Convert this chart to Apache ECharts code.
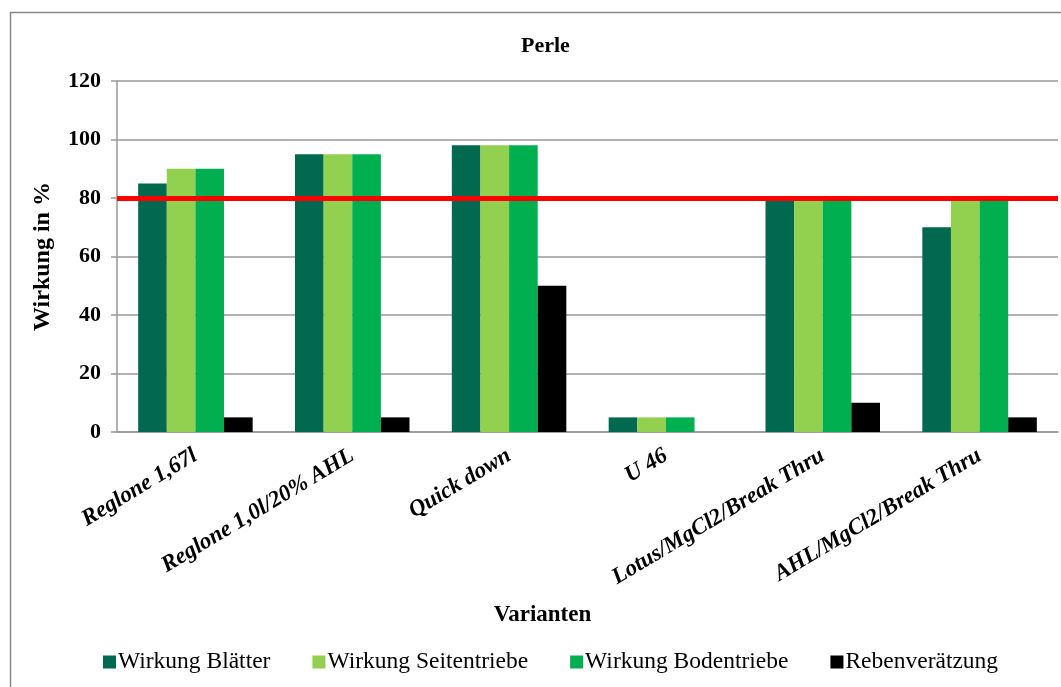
<!DOCTYPE html>
<html>
<head>
<meta charset="utf-8">
<script src="https://cdn.jsdelivr.net/npm/echarts@6/dist/echarts.min.js"></script>
<style>
  html, body { margin: 0; padding: 0; background: #fff; }
  #chart { width: 1061px; height: 687px; }
</style>
</head>
<body>
<div id="chart"></div>
<script>
// Daten
const categories = ['Reglone 1,67l', 'Reglone 1,0l/20% AHL', 'Quick down', 'U 46', 'Lotus/MgCl2/Break Thru', 'AHL/MgCl2/Break Thru'];
const blaetter = [85, 95, 98, 5, 80, 70];
const seitentriebe = [90, 95, 98, 5, 80, 80];
const bodentriebe = [90, 95, 98, 5, 80, 80];
const rebenveraetzung = [5, 5, 50, 0, 10, 5];
const schwelle = 80;

const font = 'Liberation Serif';

const chart = echarts.init(document.getElementById('chart'));

const option = {
  animation: false,
  textStyle: { fontFamily: font },
  title: {
    text: 'Perle',
    left: 516,
    top: 30,
    textStyle: { fontFamily: font, fontSize: 22, fontWeight: 'bold', color: '#000' },
  },
  // Rahmen um das Diagramm
  graphic: [
    {
      type: 'rect',
      shape: { x: 10.5, y: 12.5, width: 1070, height: 700 },
      style: { fill: 'none', stroke: '#888', lineWidth: 1.5 },
      silent: true,
    },
  ],
  legend: {
    bottom: 8,
    left: 98,
    itemWidth: 13,
    itemHeight: 13,
    itemGap: 42,
    icon: 'rect',
    textStyle: { fontFamily: font, fontSize: 23.5, color: '#000', padding: [0, 0, 0, -3] },
    data: ['Wirkung Blätter', 'Wirkung Seitentriebe', 'Wirkung Bodentriebe', 'Rebenverätzung'],
  },
  grid: {
    left: 117,
    right: 3,
    top: 81,
    bottom: 255,
  },
  xAxis: {
    type: 'category',
    data: categories,
    name: 'Varianten',
    nameLocation: 'middle',
    nameGap: 172,
    nameTextStyle: {
      fontFamily: font, fontSize: 23, fontWeight: 'bold', color: '#000',
      padding: [0, 90, 0, 0],
    },
    axisLine: { lineStyle: { color: '#999', width: 1.5 } },
    axisTick: { show: false },
    axisLabel: {
      rotate: 31,
      margin: 22,
      interval: 0,
      fontFamily: font,
      fontSize: 23,
      fontWeight: 'bold',
      fontStyle: 'italic',
      color: '#000',
    },
  },
  yAxis: {
    type: 'value',
    min: 0,
    max: 120,
    interval: 20,
    name: 'Wirkung in %',
    nameLocation: 'middle',
    nameGap: 62,
    nameTextStyle: { fontFamily: font, fontSize: 24, fontWeight: 'bold', color: '#000' },
    axisLine: { show: true, lineStyle: { color: '#999', width: 1.5 } },
    axisTick: { show: true, length: 6, lineStyle: { color: '#999', width: 1.5 } },
    splitLine: { lineStyle: { color: '#999', width: 1.5 } },
    axisLabel: { fontFamily: font, fontSize: 22, fontWeight: 'bold', color: '#000', margin: 16 },
  },
  series: [
    {
      name: 'Wirkung Blätter',
      type: 'bar',
      data: blaetter,
      barGap: '0%',
      barCategoryGap: '27%',
      itemStyle: { color: '#00694F' },
      markLine: {
        silent: true,
        symbol: 'none',
        label: { show: false },
        lineStyle: { color: '#FF0000', width: 5, type: 'solid' },
        data: [{ yAxis: schwelle }],
        z: 10,
      },
    },
    {
      name: 'Wirkung Seitentriebe',
      type: 'bar',
      data: seitentriebe,
      barGap: '0%',
      itemStyle: { color: '#92D050' },
    },
    {
      name: 'Wirkung Bodentriebe',
      type: 'bar',
      data: bodentriebe,
      barGap: '0%',
      itemStyle: { color: '#00B050' },
    },
    {
      name: 'Rebenverätzung',
      type: 'bar',
      data: rebenveraetzung,
      barGap: '0%',
      itemStyle: { color: '#000000' },
    },
  ],
};

chart.setOption(option);
window.addEventListener('resize', () => {
  chart.resize();
});
</script>
</body>
</html>
